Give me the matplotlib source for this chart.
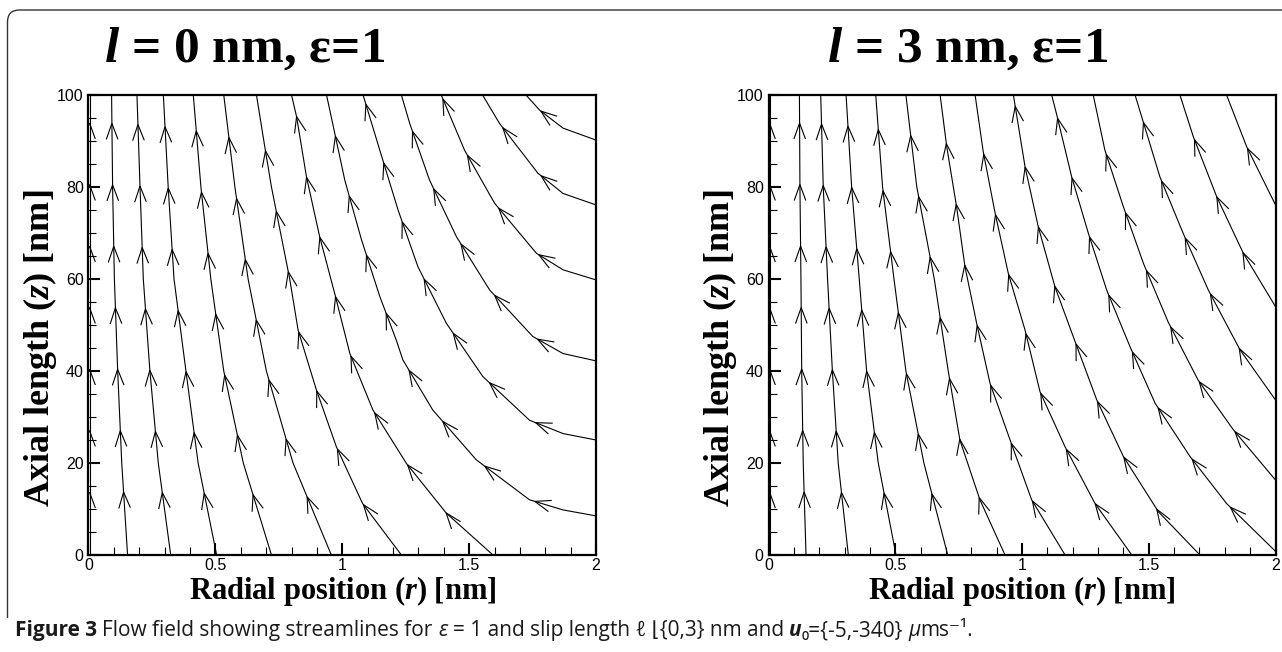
import numpy as np
import matplotlib
matplotlib.use('agg')
import matplotlib.pyplot as plt
from matplotlib.path import Path
from matplotlib.patches import PathPatch

plt.rc('font', family='Liberation Sans', size=11.5)
plt.rc('mathtext', fontset='custom', rm='Liberation Serif:bold',
       it='Liberation Serif:italic:bold', bf='Liberation Serif:bold')

W, H = 1282, 652

r_ticks = [0, 0.5, 1, 1.5, 2]
r_tick_labels = ['0', '0.5', '1', '1.5', '2']
z_ticks = [0, 20, 40, 60, 80, 100]
titles = [r'$l$ = 0 nm, ε=1', r'$l$ = 3 nm, ε=1']
xlabel = 'Radial position ($r$) [nm]'
ylabel = 'Axial length ($z$) [nm]'

# streamlines as (r, z) points, seed end first
# slip length l = 0 nm
streams_l0 = [
    [(0.004, 0), (0.004, 100)],
    [(0.154, 0), (0.131, 20), (0.115, 40), (0.102, 60), (0.095, 80), (0.091, 100)],
    [(0.324, 0), (0.275, 20), (0.242, 40), (0.216, 60), (0.203, 80), (0.191, 100)],
    [(0.505, 0), (0.432, 20), (0.384, 40), (0.337, 60), (0.314, 80), (0.295, 100)],
    [(0.721, 0), (0.610, 20), (0.533, 40), (0.482, 60), (0.443, 80), (0.413, 100)],
    [(0.957, 0), (0.806, 20), (0.701, 40), (0.629, 60), (0.577, 80), (0.533, 100)],
    [(1.233, 0), (1.080, 11.2), (0.977, 23.5), (0.898, 35.9), (0.826, 48.9),
     (0.793, 60), (0.721, 80), (0.691, 90), (0.662, 100)],
    [(1.594, 0), (1.410, 9.1), (1.253, 19.9), (1.121, 31.5), (1.030, 43.8),
     (0.970, 56.9), (0.911, 69.2), (0.859, 82.2), (0.820, 95.3), (0.800, 100)],
    [(2.0, 8.5), (1.87, 9.8), (1.738, 12), (1.528, 20.7), (1.357, 31.5),
     (1.239, 42.4), (1.213, 46.7), (1.148, 56.2), (1.076, 68.5), (1.010, 81.5),
     (0.951, 96.7), (0.938, 100)],
    [(2.0, 25), (1.87, 26.4), (1.738, 29.3), (1.554, 38.8), (1.410, 50.4),
     (1.298, 62.7), (1.220, 75), (1.148, 88), (1.082, 100)],
    [(2.0, 42.2), (1.87, 43.8), (1.751, 47.5), (1.581, 57.6), (1.450, 69.2),
     (1.344, 81.5), (1.266, 93.8), (1.233, 100)],
    [(2.0, 59.8), (1.87, 62), (1.765, 65.6), (1.600, 76.5), (1.482, 88), (1.390, 100)],
    [(2.0, 76.1), (1.87, 78.6), (1.771, 83), (1.620, 93.8), (1.553, 100)],
    [(2.0, 90.2), (1.87, 92.8), (1.778, 96.7), (1.724, 100)],
]

# slip length l = 3 nm
streams_l3 = [
    [(0.004, 0), (0.004, 100)],
    [(0.148, 0), (0.137, 20), (0.131, 40), (0.128, 60), (0.124, 80), (0.122, 100)],
    [(0.315, 0), (0.275, 20), (0.252, 40), (0.233, 60), (0.216, 80), (0.206, 100)],
    [(0.503, 0), (0.433, 20), (0.387, 40), (0.358, 60), (0.328, 80), (0.306, 100)],
    [(0.707, 0), (0.613, 20), (0.542, 40), (0.495, 60), (0.450, 80), (0.423, 100)],
    [(0.933, 0), (0.834, 12), (0.755, 25), (0.709, 40), (0.654, 60), (0.585, 80),
     (0.542, 100)],
    [(1.170, 0), (1.038, 12), (0.953, 25), (0.874, 37.3), (0.821, 50.4),
     (0.775, 62.7), (0.742, 75.7), (0.703, 88.8), (0.677, 100)],
    [(1.433, 0), (1.288, 11.2), (1.170, 23.5), (1.071, 35.5), (1.012, 48.9),
     (0.946, 61.2), (0.894, 74.3), (0.847, 87.7), (0.815, 100)],
    [(1.702, 0), (1.538, 9.4), (1.400, 21.4), (1.295, 33.7), (1.202, 47.5),
     (1.130, 58.3), (1.064, 71.4), (1.012, 84.4), (0.966, 100)],
    [(2.0, 0.8), (1.807, 11.2), (1.663, 21.4), (1.525, 33), (1.426, 45.3),
     (1.334, 57.6), (1.262, 69.9), (1.196, 82.2), (1.137, 95.7), (1.117, 100)],
    [(2.0, 16.3), (1.834, 27.2), (1.695, 38), (1.577, 50.6), (1.479, 63.4),
     (1.400, 75.7), (1.327, 88), (1.281, 100)],
    [(2.0, 33.7), (1.860, 44.6), (1.735, 57.6), (1.636, 69.9), (1.544, 82.2),
     (1.472, 95.3), (1.446, 100)],
    [(2.0, 54), (1.873, 65.6), (1.768, 77.9), (1.676, 90.9), (1.623, 100)],
    [(2.0, 76.1), (1.886, 88.8), (1.807, 100)],
]


def px_box(x0, x1, y_top, y_bot):
    return [x0 / W, 1 - y_bot / H, (x1 - x0) / W, (y_bot - y_top) / H]


def draw_arrows(ax, pts, first=63, step=61.5, arm=17, half=np.radians(20)):
    # open chevrons every `step` pixels along the line, like Tecplot streamtraces
    xy = ax.transData.transform(np.array(pts, dtype=float))
    d = np.hypot(*np.diff(xy, axis=0).T)
    s = np.concatenate([[0], np.cumsum(d)])
    inv = ax.transData.inverted()
    for si in np.arange(first, s[-1] - 4, step):
        i = int(np.clip(np.searchsorted(s, si) - 1, 0, len(d) - 1))
        u = (xy[i + 1] - xy[i]) / d[i]
        tip = xy[i] + (si - s[i]) * u
        for sgn in (1, -1):
            c, sn = np.cos(sgn * half), np.sin(sgn * half)
            back = -np.array([c * u[0] - sn * u[1], sn * u[0] + c * u[1]])
            seg = inv.transform([tip, tip + arm * back])
            ax.plot(seg[:, 0], seg[:, 1], color='k', lw=0.8,
                    solid_capstyle='butt')


fig = plt.figure(figsize=(W / 100, H / 100), dpi=100)

boxes = [px_box(88.5, 596, 95, 555), px_box(768.5, 1275.5, 95, 555)]
title_pos = [(104, 'left'), (1108, 'right')]

for k, (streams, box) in enumerate(zip([streams_l0, streams_l3], boxes)):
    ax = fig.add_axes(box)
    ax.set_xlim(0, 2)
    ax.set_ylim(0, 100)
    ax.set_xticks(r_ticks)
    ax.set_xticklabels(r_tick_labels)
    ax.set_yticks(z_ticks)
    ax.set_xticks(np.arange(0, 2.01, 0.1), minor=True)
    ax.set_yticks(np.arange(0, 101, 5), minor=True)
    ax.tick_params(which='both', direction='in', top=False, right=False)
    ax.tick_params(which='major', length=8.5, width=1.5)
    ax.tick_params(which='minor', length=5.5, width=0.8)
    ax.tick_params(axis='x', pad=2)
    ax.tick_params(axis='y', pad=3.5)
    for sp in ax.spines.values():
        sp.set_linewidth(1.6)

    ax.set_xlabel(xlabel, fontfamily='Liberation Serif', fontweight='bold',
                  fontsize=22)
    ax.xaxis.set_label_coords(0.5, -0.041)
    ax.set_ylabel(ylabel, fontfamily='Liberation Serif', fontweight='bold',
                  fontsize=26)
    ax.yaxis.label.set_verticalalignment('center')
    ax.yaxis.set_label_coords(-0.096, 0.45)

    for pts in streams:
        arr = np.array(pts)
        ax.plot(arr[:, 0], arr[:, 1], color='k', lw=0.8)
        draw_arrows(ax, pts)

    tx, ha = title_pos[k]
    fig.text(tx / W, 1 - 62 / H, titles[k], ha=ha, va='baseline',
             fontfamily='Liberation Serif', fontweight='bold', fontsize=37)

# rounded frame (top and left edges)
fx = lambda x: x / W
fy = lambda y: 1 - y / H
frame = Path([(fx(7.5), fy(618)), (fx(7.5), fy(22)), (fx(7.5), fy(10)),
              (fx(19.5), fy(10)), (fx(1282), fy(10))],
             [Path.MOVETO, Path.LINETO, Path.CURVE3, Path.CURVE3, Path.LINETO])
fig.add_artist(PathPatch(frame, fill=False, lw=1, ec='#333333',
                         transform=fig.transFigure))

# caption, drawn piecewise to mix bold / italic
renderer = fig.canvas.get_renderer()
cap_font = ['Open Sans', 'DejaVu Sans']
caption = [
    ('Figure 3', 'bold', 'normal', True),
    ('Flow field showing streamlines for', 'normal', 'normal', True),
    ('ε', 'normal', 'italic', True),
    ('= 1 and slip length ℓ ⌊{0,3} nm and', 'normal', 'normal', True),
    ('u', 'bold', 'italic', False),
    ('₀={-5,-340}', 'normal', 'normal', True),
    ('μ', 'normal', 'italic', False),
    ('ms⁻¹.', 'normal', 'normal', False),
]
cap_size = 15
probe1 = fig.text(0, 0, 'a a', family=cap_font, fontsize=cap_size)
probe2 = fig.text(0, 0, 'aa', family=cap_font, fontsize=cap_size)
space_w = (probe1.get_window_extent(renderer).width
           - probe2.get_window_extent(renderer).width)
probe1.remove()
probe2.remove()

x = 15.0
for txt, wt, st, sp in caption:
    t = fig.text(x / W, 1 - 636 / H, txt, family=cap_font, fontsize=cap_size,
                 fontweight=wt, fontstyle=st, ha='left', va='baseline',
                 color='#1a1a1a')
    x += t.get_window_extent(renderer).width + (space_w if sp else 0)

fig.savefig('out.png', dpi=100)
